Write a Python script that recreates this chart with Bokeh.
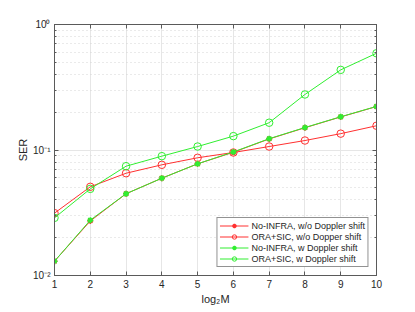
from bokeh.plotting import figure
from bokeh.models import (Range1d, LinearAxis, LogAxis, Legend, LegendItem,
                          CustomJSTickFormatter, FixedTicker)
from bokeh.embed import file_html
from bokeh.resources import INLINE

x = [1, 2, 3, 4, 5, 6, 7, 8, 9, 10]
noinfra_wo = [0.0130, 0.0272, 0.0448, 0.0596, 0.0776, 0.0960, 0.1225, 0.1505, 0.1835, 0.2220]
ora_wo = [0.0314, 0.0509, 0.0653, 0.0762, 0.0867, 0.0955, 0.1066, 0.1190, 0.1350, 0.1560]
noinfra_w = [0.0130, 0.0276, 0.0448, 0.0596, 0.0776, 0.0965, 0.1230, 0.1510, 0.1840, 0.2225]
ora_w = [0.0288, 0.0490, 0.0743, 0.0893, 0.1066, 0.1290, 0.1650, 0.2770, 0.4350, 0.5900]
labels = ["No-INFRA, w/o Doppler shift", "ORA+SIC, w/o Dopper shift",
          "No-INFRA, w Doppler shift", "ORA+SIC, w Doppler shift"]
y_major = [0.01, 0.1, 1]
y_minor = [0.02, 0.03, 0.04, 0.05, 0.06, 0.07, 0.08, 0.09,
           0.2, 0.3, 0.4, 0.5, 0.6, 0.7, 0.8, 0.9]

RED = "#ff3030"
GREEN = "#30ee30"
FONT = "Liberation Sans"
AX = "#5a5a5a"

p = figure(width=415, height=312, output_backend="svg", toolbar_location=None,
           y_axis_type="log", x_range=Range1d(1, 10), y_range=Range1d(0.01, 1),
           min_border_left=54, min_border_top=24, min_border_right=39,
           min_border_bottom=37)
p.outline_line_color = AX
p.outline_line_width = 1

r1l = p.line(x, noinfra_wo, color=RED, line_width=1)
r1m = p.scatter(x, noinfra_wo, marker="asterisk", size=6, color=RED, line_width=1.5)
r2l = p.line(x, ora_wo, color=RED, line_width=1)
r2m = p.scatter(x, ora_wo, marker="circle", size=7.5, line_color=RED, fill_color=None, line_width=1)
r3l = p.line(x, noinfra_w, color=GREEN, line_width=1)
r3m = p.scatter(x, noinfra_w, marker="asterisk", size=6, color=GREEN, line_width=1.5)
r4l = p.line(x, ora_w, color=GREEN, line_width=1)
r4m = p.scatter(x, ora_w, marker="circle", size=7.5, line_color=GREEN, fill_color=None, line_width=1)

fmt = CustomJSTickFormatter(code="""
const sup = {'-':'\u207b','0':'\u2070','1':'\u00b9','2':'\u00b2','3':'\u00b3'};
const e = Math.round(Math.log10(tick));
return '10' + String(e).split('').map(c => sup[c]).join('');
""")
blank = CustomJSTickFormatter(code="return '';")

xticker = FixedTicker(ticks=x)
yticker = FixedTicker(ticks=y_major, minor_ticks=y_minor)

def style(ax, labels_on=True):
    ax.axis_line_color = AX
    ax.major_tick_line_color = AX
    ax.minor_tick_line_color = AX
    ax.major_tick_in = 4
    ax.major_tick_out = 0
    ax.minor_tick_in = 2
    ax.minor_tick_out = 0
    ax.major_label_text_font = FONT
    ax.major_label_text_font_size = "10px"
    ax.major_label_text_color = "#262626"
    ax.axis_label_text_font = FONT
    ax.axis_label_text_font_size = "11px"
    ax.axis_label_text_font_style = "normal"
    ax.axis_label_text_color = "#262626"
    if not labels_on:
        ax.formatter = blank
        ax.major_label_standoff = 0

p.xaxis.ticker = xticker
style(p.xaxis[0])
p.xaxis.axis_label = "log\u2082M"
p.xaxis.axis_label_standoff = 2
p.xaxis.major_label_standoff = 4
p.xaxis.minor_tick_line_color = None

p.yaxis.ticker = yticker
style(p.yaxis[0])
p.yaxis.formatter = fmt
p.yaxis.axis_label = "SER"
p.yaxis.axis_label_standoff = 1
p.yaxis.major_label_standoff = 4

top = LinearAxis(ticker=xticker)
style(top, False)
top.minor_tick_line_color = None
p.add_layout(top, "above")
right = LogAxis(ticker=yticker)
style(right, False)
p.add_layout(right, "right")

p.xgrid.ticker = xticker
p.ygrid.ticker = yticker
p.xgrid.grid_line_color = "#e6e6e6"
p.ygrid.grid_line_color = "#e6e6e6"
p.ygrid.minor_grid_line_color = "#d4d4d4"
p.ygrid.minor_grid_line_dash = "1 3"

legend = Legend(items=[
    LegendItem(label=labels[0], renderers=[r1l, r1m]),
    LegendItem(label=labels[1], renderers=[r2l, r2m]),
    LegendItem(label=labels[2], renderers=[r3l, r3m]),
    LegendItem(label=labels[3], renderers=[r4l, r4m]),
], location="bottom_right")
legend.margin = 8
legend.padding = 2
legend.spacing = 0
legend.label_height = 11
legend.glyph_height = 11
legend.glyph_width = 29
legend.label_standoff = 3
legend.label_text_font = FONT
legend.label_text_font_size = "9px"
legend.label_text_color = "#262626"
legend.border_line_color = "#262626"
legend.border_line_width = 1
legend.background_fill_alpha = 1
p.add_layout(legend)

open("out.html", "w").write(file_html(p, INLINE))
